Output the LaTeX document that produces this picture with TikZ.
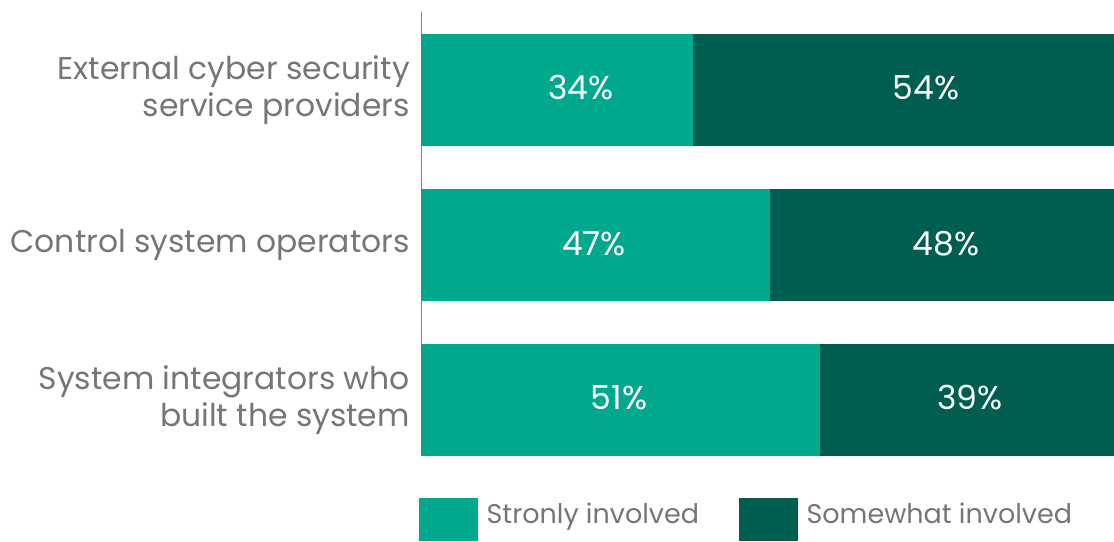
\documentclass[tikz,border=0pt]{standalone}
\usepackage{fontspec}
\setmainfont{Poppins}
\usetikzlibrary{positioning}
\definecolor{strongteal}{HTML}{00A88E}
\definecolor{someteal}{HTML}{005E50}
\definecolor{labelgray}{HTML}{767676}

\begin{document}
\begin{tikzpicture}[x=1pt,y=-1pt]
    \tikzset{seg/.style= {rectangle, inner sep=0pt, minimum height=112pt, anchor=north west} }
    \tikzset{strong/.style= {seg, fill=strongteal} }
    \tikzset{some/.style= {seg, fill=someteal} }
    \tikzset{pct/.style= {text=white, inner sep=0pt, font={\fontsize{33}{38}\selectfont}} }
    \tikzset{cat/.style= {text=labelgray, inner sep=0pt, align=right, font={\fontsize{31.4}{37}\selectfont}} }
    \tikzset{key/.style= {rectangle, inner sep=0pt, minimum width=59pt, minimum height=43pt, anchor=north west} }
    \tikzset{keytext/.style= {text=labelgray, inner sep=0pt, font={\fontsize{27}{30}\selectfont}} }

    \useasboundingbox (0,0) rectangle (1114,541);

    % axis
    \coordinate (axis-top) at (421.5,12);
    \coordinate (axis-bot) at (421.5,456);
    \draw[gray, line width=1.5pt] (axis-top) -- (axis-bot);

    % bars
    \node[some, minimum width=694pt] (ext-some) at (421,34) {};
    \node[strong, minimum width=272pt] (ext-strong) at (421,34) {};
    \node[some, minimum width=694pt] (ops-some) at (421,189) {};
    \node[strong, minimum width=349pt] (ops-strong) at (421,189) {};
    \node[some, minimum width=694pt] (int-some) at (421,344) {};
    \node[strong, minimum width=399pt] (int-strong) at (421,344) {};

    % values
    \node[pct] (ext-strong-val) at (581,88) {34\%};
    \node[pct] (ext-some-val) at (926,88) {54\%};
    \node[pct] (ops-strong-val) at (594,244) {47\%};
    \node[pct] (ops-some-val) at (946,244) {48\%};
    \node[pct] (int-strong-val) at (619,398) {51\%};
    \node[pct] (int-some-val) at (970,398) {39\%};

    % categories
    \node[cat] (ext) [left=11pt of ext-strong] {External cyber security\\service providers};
    \node[cat] (ops) [left=11pt of ops-strong] {Control system operators};
    \node[cat] (int) [left=11pt of int-strong] {System integrators who\\built the system};

    % legend
    \node[key, fill=strongteal] (key-strong) at (419,498) {};
    \node[keytext, anchor=base west] (key-strong-text) [right=8pt of key-strong, anchor=base west, yshift=-3.5pt] {Stronly involved};
    \node[key, fill=someteal] (key-some) at (739,498) {};
    \node[keytext] (key-some-text) [right=8pt of key-some, anchor=base west, yshift=-3.5pt] {Somewhat involved};
\end{tikzpicture}
\end{document}
